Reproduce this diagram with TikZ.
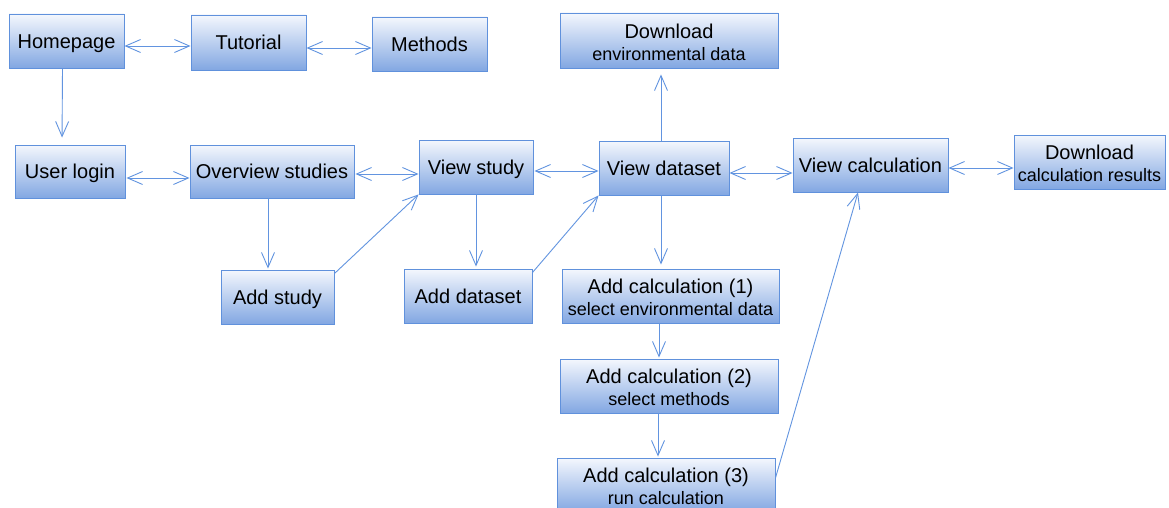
\documentclass[tikz,border=0pt]{standalone}
\usepackage{fontspec}
\setmainfont{Liberation Sans}
\usetikzlibrary{arrows.meta}
\definecolor{edgeblue}{RGB}{96,145,220}
\definecolor{lineblue}{RGB}{98,148,224}
\definecolor{filltop}{RGB}{244,247,253}
\definecolor{fillbot}{RGB}{130,167,226}
\newcommand{\mainsz}{\fontsize{20}{22}\selectfont}
\newcommand{\subsz}{\fontsize{18}{22}\selectfont}
% taller first line, so two-line labels sit a little lower in their boxes
\newcommand{\firstline}{\rule{0pt}{18pt}}
\tikzset{
  box/.style={draw=edgeblue, line width=0.9pt, top color=filltop, bottom color=fillbot,
    inner sep=2pt, align=center, font=\mainsz, text=black},
  oneline/.style={box, text height=14.5pt, text depth=0pt},
  link/.style={draw=lineblue, line width=0.9pt},
  >={Straight Barb[length=15pt,width=13pt]}
}
\begin{document}
\begin{tikzpicture}[x=1pt,y=-1pt]
\useasboundingbox[fill=white] (0,0) rectangle (1169,508);

% top row
\node[oneline, minimum width=115, minimum height=54] (home)  at (66.5,41)   {Homepage};
\node[oneline, minimum width=115, minimum height=55] (tut)   at (248.5,42.5) {Tutorial};
\node[oneline, minimum width=115, minimum height=54] (meth)  at (429.5,44)  {Methods};
\node[box, minimum width=218, minimum height=55] (dlenv) at (669,40.5)  {\firstline Download\\{\subsz environmental data}};

% middle row
\node[oneline, minimum width=110, minimum height=53] (login)  at (70,171.5)   {User login};
\node[oneline, minimum width=164, minimum height=53] (over)   at (272,171.5)  {Overview studies};
\node[oneline, minimum width=114, minimum height=54] (vstudy) at (476,167)    {View study};
\node[oneline, minimum width=130, minimum height=54] (vdata)  at (664,168)    {View dataset};
\node[oneline, minimum width=155, minimum height=54] (vcalc)  at (870.5,165)  {View calculation};
\node[box, minimum width=151, minimum height=54] (dlcalc) at (1089.5,162) {\firstline Download\\{\subsz calculation results}};

% lower rows
\node[oneline, minimum width=113, minimum height=54] (astudy) at (277.5,297) {Add study};
\node[oneline, minimum width=128, minimum height=54] (adata)  at (468,296)   {Add dataset};
\node[box, minimum width=217, minimum height=54] (add1)   at (670.5,296) {\firstline Add calculation (1)\\{\subsz select environmental data}};
\node[box, minimum width=218, minimum height=54] (add2)   at (669,386)   {\firstline Add calculation (2)\\{\subsz select methods}};
\node[box, minimum width=218, minimum height=54] (add3)   at (666,485)   {\firstline Add calculation (3)\\{\subsz run calculation}};

% two-way links
\draw[link,<->] ([yshift=-5]home.east) -- ([yshift=-3.5]tut.west);
\draw[link,<->] ([yshift=-5.5]tut.east) -- ([yshift=-4]meth.west);
\draw[link,<->,shorten <=1pt] ([yshift=-6.5]login.east) -- ([yshift=-6.5]over.west);
\draw[link,<->,shorten <=1pt] ([yshift=-2.5]over.east) -- ([yshift=-7]vstudy.west);
\draw[link,<->,shorten <=1pt] ([yshift=-4]vstudy.east) -- ([yshift=-3]vdata.west);
\draw[link,<->] ([yshift=-5]vdata.east) -- ([yshift=-8]vcalc.west);
\draw[link,<->] ([yshift=-3]vcalc.east) -- ([yshift=-6]dlcalc.west);

% one-way links
\draw[link,->,shorten >=7pt] ([xshift=-4]home.south) -- ([xshift=-8]login.north);
\draw[link,->,shorten >=6pt] ([xshift=-3]vdata.north) -- ([xshift=-8]dlenv.south);
\draw[link,->,shorten >=1pt] ([xshift=-4]over.south) -- ([xshift=-9.5]astudy.north);
\draw[link,->] ([yshift=-4]astudy.north east) -- (vstudy.south west);
\draw[link,->,shorten >=2pt] (vstudy.south) -- ([xshift=8]adata.north);
\draw[link,->] ([yshift=-4]adata.north east) -- (vdata.south west);
\draw[link,->,shorten >=4pt] ([xshift=-3]vdata.south) -- ([xshift=-9.5]add1.north);
\draw[link,->,shorten >=1pt] ([xshift=-11.5]add1.south) -- ([xshift=-10]add2.north);
\draw[link,->,shorten >=1pt] ([xshift=-11]add2.south) -- ([xshift=-8]add3.north);
\draw[link,->] ([yshift=7]add3.east) -- ([xshift=-12.5]vcalc.south);
\end{tikzpicture}
\end{document}
